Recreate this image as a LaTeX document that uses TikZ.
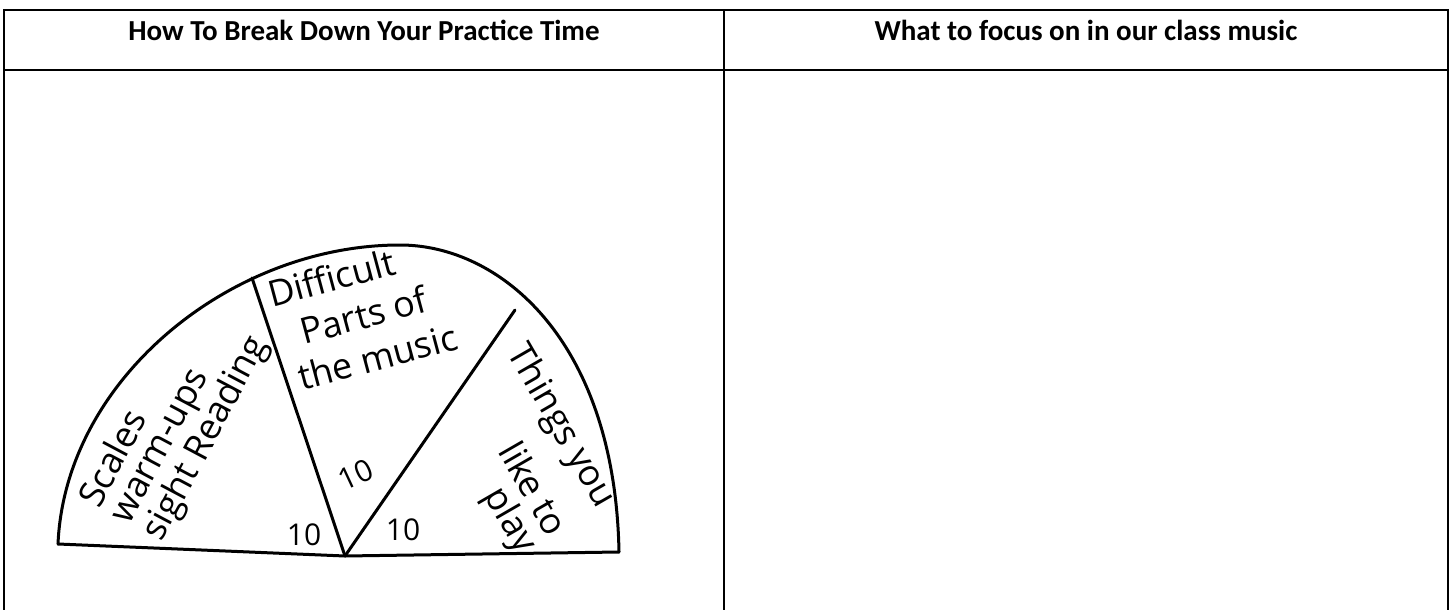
\documentclass[tikz,border=0pt]{standalone}
\usepackage{fontspec}
\setmainfont{Carlito}
\newfontfamily\handfont{Open Sans}
\usetikzlibrary{positioning}
\tikzset{
  gridrule/.style={line width=1.6pt, draw=black},
  pieline/.style={line width=3pt, draw=black, line cap=round, line join=round},
  headtext/.style={font=\bfseries\fontsize{29}{32}\selectfont, inner sep=0pt},
  handtext/.style={font=\handfont\fontsize{36}{38}\selectfont, align=left, inner sep=0pt},
  countlabel/.style={font=\handfont\fontsize{30}{30}\selectfont, inner sep=0pt}
}

\begin{document}
\begin{tikzpicture}[x=1pt, y=-1pt]
  \useasboundingbox (0,0) rectangle (1452,610);
  % table frame
  \draw[gridrule] (4,610) -- (4,10) -- (1448,10) -- (1448,610);
  \draw[gridrule] (4,70) -- (1448,70);
  \draw[gridrule] (724,10) -- (724,610);
  \node[headtext] (practice) at (364,30) {How To Break Down Your Practice Time};
  \node[headtext] (focus) at (1086,30) {What to focus on in our class music};

  % half pie
  \coordinate (hub) at (345,556);
  \coordinate (west) at (58,544);
  \coordinate (east) at (619,552);
  \coordinate (crown) at (400,245);
  \coordinate (leftcut) at (252,278);
  \coordinate (rightcut) at (515,310);
  \draw[pieline] (west) .. controls (65,380) and (230,245) .. (crown)
    .. controls (500,245) and (615,340) .. (east);
  \draw[pieline] (west) -- (hub) -- (east);
  \draw[pieline] (hub) -- (leftcut);
  \draw[pieline] (hub) -- (rightcut);

  \node[handtext, rotate=62, anchor=west, font=\handfont\fontsize{36}{34}\selectfont] (scales) at (122,522) {Scales\\warm-ups\\sight Reading};
  \node[handtext, rotate=15, anchor=north west, font=\handfont\fontsize{36}{44}\selectfont] (hard) at (265,281) {Difficult\\\hspace{0.6em}Parts of\\\hspace{0.2em}the music};
  \node[handtext, align=right, rotate=-60, anchor=east, font=\handfont\fontsize{36}{34}\selectfont] (things) at (566,528) {Things you\\[20pt]like to\hspace{1em}\\play};

  \node[countlabel] (warmcount) at (304,535) {10};
  \node[countlabel, rotate=25] (hardcount) at (356,475) {10};
  \node[countlabel] (funcount) at (403,530) {10};
\end{tikzpicture}
\end{document}
